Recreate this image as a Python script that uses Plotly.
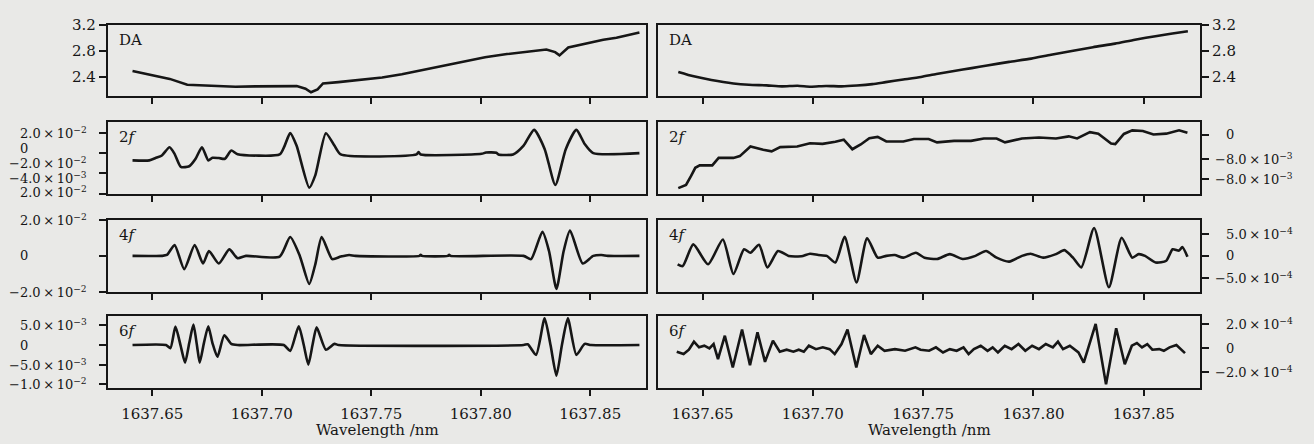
import plotly.graph_objects as go

# ---------------- data ----------------
# Left column
da_l_x = [1637.641, 1637.650, 1637.658, 1637.666, 1637.672, 1637.678, 1637.688, 1637.697, 1637.706,
          1637.716, 1637.720, 1637.7225, 1637.7255, 1637.728, 1637.735, 1637.745, 1637.755, 1637.764,
          1637.774, 1637.783, 1637.793, 1637.802, 1637.812, 1637.822, 1637.830, 1637.834, 1637.836,
          1637.840, 1637.845, 1637.850, 1637.856, 1637.862, 1637.867, 1637.8725]
da_l_y = [2.49, 2.43, 2.37, 2.28, 2.27, 2.26, 2.25, 2.255, 2.255, 2.26, 2.22, 2.165, 2.21, 2.30,
          2.32, 2.35, 2.39, 2.44, 2.51, 2.57, 2.64, 2.70, 2.75, 2.79, 2.82, 2.78, 2.73, 2.85, 2.89,
          2.93, 2.97, 3.00, 3.04, 3.08]

f2_l_x = [1637.641, 1637.6487, 1637.6515, 1637.6544, 1637.6579, 1637.6602, 1637.6631, 1637.6669,
          1637.6698, 1637.6727, 1637.6756, 1637.6775, 1637.6804, 1637.6832, 1637.6861, 1637.6890,
          1637.7082, 1637.7105, 1637.7130, 1637.7159, 1637.7217, 1637.7245, 1637.7293, 1637.7332,
          1637.7361, 1637.7707, 1637.7716, 1637.7726, 1637.8004, 1637.8024, 1637.8072, 1637.8081,
          1637.8148, 1637.8196, 1637.8244, 1637.8292, 1637.8341, 1637.8389, 1637.8437, 1637.8475,
          1637.8514, 1637.8725]
f2_l_y = [-0.0070, -0.0070, -0.0047, -0.0021, 0.0060, -0.0005, -0.0135, -0.0128, -0.0054, 0.0060,
          -0.0070, -0.0044, -0.0047, -0.0054, 0.0028, -0.0008, -0.0011, 0.0077, 0.0200, 0.0077,
          -0.0340, -0.0216, 0.0200, 0.0077, -0.0011, -0.0011, 0.0012, -0.0011, -0.0005, 0.0008,
          0.0005, -0.0011, -0.0011, 0.0077, 0.0233, 0.0044, -0.0314, 0.0044, 0.0233, 0.0093,
          0.0002, 0.0002]

f4_l_x = [1637.641, 1637.6544, 1637.6567, 1637.6602, 1637.6646, 1637.6694, 1637.6732, 1637.6759,
          1637.6804, 1637.6852, 1637.6890, 1637.6928, 1637.7082, 1637.7130, 1637.7174, 1637.7217,
          1637.7245, 1637.7274, 1637.7322, 1637.7361, 1637.7399, 1637.7428, 1637.7720, 1637.7726,
          1637.7732, 1637.7850, 1637.7856, 1637.7862, 1637.8196, 1637.8230, 1637.8282, 1637.8312,
          1637.8346, 1637.8379, 1637.8408, 1637.8466, 1637.8514, 1637.8552, 1637.8581, 1637.8725]
f4_l_y = [0.0, 0.0, 0.0005, 0.0060, -0.0073, 0.0060, -0.0042, 0.0027, -0.0042, 0.0036, -0.0013,
          0.0, -0.0004, 0.0104, 0.0, -0.0155, -0.0045, 0.0104, -0.0018, -0.0004, 0.0005, 0.0, 0.0,
          0.0006, 0.0, 0.0, 0.0006, 0.0, 0.0, -0.0018, 0.0133, 0.0027, -0.0182, 0.0027, 0.0140,
          -0.0042, 0.0, 0.0005, 0.0, 0.0]

f6_l_x = [1637.641, 1637.6563, 1637.6583, 1637.6606, 1637.6629, 1637.6650, 1637.6669, 1637.6688,
          1637.6704, 1637.6717, 1637.6736, 1637.6756, 1637.6775, 1637.6798, 1637.6829, 1637.6861,
          1637.6890, 1637.7101, 1637.7130, 1637.7169, 1637.7192, 1637.7213, 1637.7232, 1637.7251,
          1637.7293, 1637.7332, 1637.7351, 1637.8196, 1637.8215, 1637.8253, 1637.8292, 1637.8319,
          1637.8346, 1637.8371, 1637.8398, 1637.8437, 1637.8475, 1637.8504, 1637.8725]
f6_l_y = [0.0, 0.0, -0.0008, 0.0047, 0.0, -0.0045, 0.0005, 0.0052, 0.0, -0.0045, 0.0005, 0.0048,
          0.0005, -0.0030, 0.0025, 0.0003, 0.0, 0.0, -0.0015, 0.0048, 0.0, -0.0050, 0.0, 0.0045,
          -0.0012, 0.0003, 0.0, 0.0, 0.0002, -0.0025, 0.0068, 0.0, -0.0078, 0.0, 0.0068, -0.0025,
          0.0003, 0.0, 0.0]

# Right column
da_r_x = [1637.639, 1637.646, 1637.654, 1637.664, 1637.671, 1637.679, 1637.686, 1637.693, 1637.699,
          1637.706, 1637.713, 1637.720, 1637.727, 1637.733, 1637.741, 1637.749, 1637.756, 1637.764,
          1637.772, 1637.779, 1637.789, 1637.799, 1637.808, 1637.818, 1637.827, 1637.837, 1637.846,
          1637.856, 1637.863, 1637.870]
da_r_y = [2.477, 2.41, 2.353, 2.30, 2.28, 2.27, 2.255, 2.265, 2.25, 2.262, 2.255, 2.268, 2.29, 2.32,
          2.36, 2.40, 2.445, 2.49, 2.535, 2.576, 2.63, 2.68, 2.74, 2.80, 2.855, 2.91, 2.97, 3.027,
          3.065, 3.10]

f2_r_x = [1637.6390, 1637.6425, 1637.6448, 1637.6467, 1637.6487, 1637.6544, 1637.6573, 1637.6640,
          1637.6669, 1637.6717, 1637.6775, 1637.6813, 1637.6852, 1637.6929, 1637.6987, 1637.7044,
          1637.7102, 1637.7140, 1637.7179, 1637.7217, 1637.7256, 1637.7294, 1637.7333, 1637.7410,
          1637.7458, 1637.7525, 1637.7563, 1637.7640, 1637.7717, 1637.7775, 1637.7833, 1637.7871,
          1637.7948, 1637.8025, 1637.8102, 1637.8160, 1637.8198, 1637.8256, 1637.8294, 1637.8352,
          1637.8371, 1637.8410, 1637.8448, 1637.8496, 1637.8544, 1637.8602, 1637.8660, 1637.8698]
f2_r_y = [-0.0179, -0.0168, -0.0138, -0.0111, -0.0103, -0.0103, -0.0078, -0.0078, -0.0072, -0.0040,
          -0.0051, -0.0056, -0.0042, -0.0040, -0.0029, -0.0031, -0.0024, -0.0017, -0.0049, -0.0033,
          -0.0012, -0.0008, -0.0023, -0.0023, -0.0015, -0.0015, -0.0026, -0.0021, -0.0021, -0.0013,
          -0.0013, -0.0026, -0.0013, -0.0010, -0.0013, -0.0006, -0.0013, 0.0008, 0.0003, -0.0030,
          -0.0032, 0.0002, 0.0014, 0.0012, 0.0000, 0.0003, 0.0014, 0.0006]

f4_r_x = [1637.6387, 1637.6410, 1637.6458, 1637.6525, 1637.6592, 1637.6640, 1637.6688, 1637.6717,
          1637.6756, 1637.6794, 1637.6842, 1637.6890, 1637.6948, 1637.6987, 1637.7025, 1637.7063,
          1637.7102, 1637.7144, 1637.7198, 1637.7246, 1637.7294, 1637.7333, 1637.7371, 1637.7410,
          1637.7467, 1637.7506, 1637.7563, 1637.7621, 1637.7679, 1637.7737, 1637.7785, 1637.7833,
          1637.7890, 1637.7948, 1637.7987, 1637.8044, 1637.8102, 1637.8140, 1637.8179, 1637.8217,
          1637.8275, 1637.8342, 1637.8400, 1637.8448, 1637.8477, 1637.8506, 1637.8554, 1637.8602,
          1637.8631, 1637.8660, 1637.8675, 1637.8698]
f4_r_y = [-1.9e-4, -2.3e-4, 2.6e-4, -1.9e-4, 3.7e-4, -4.1e-4, 1.5e-4, 0.7e-4, 2.5e-4, -2.6e-4,
          1.1e-4, 0.0, -0.1e-4, 0.5e-4, 0.2e-4, 0.0, -1.5e-4, 4.3e-4, -6.0e-4, 4.0e-4, -0.4e-4,
          0.0, 0.2e-4, -0.4e-4, 0.7e-4, -0.4e-4, -0.7e-4, 0.4e-4, -0.7e-4, 0.0, 1.1e-4, -0.4e-4,
          -1.3e-4, 0.0, 0.5e-4, -0.4e-4, 0.4e-4, 1.3e-4, -0.4e-4, -2.6e-4, 6.3e-4, -7.1e-4, 4.1e-4,
          -0.4e-4, 0.4e-4, 0.0, -1.5e-4, -1.1e-4, 1.5e-4, 1.2e-4, 2.0e-4, -0.2e-4]

f6_r_x = [1637.6383, 1637.6414, 1637.6438, 1637.6461, 1637.6484, 1637.6508, 1637.6531, 1637.6550,
          1637.6570, 1637.6601, 1637.6637, 1637.6679, 1637.6715, 1637.6749, 1637.6783, 1637.6819,
          1637.6850, 1637.6881, 1637.6912, 1637.6936, 1637.6959, 1637.6982, 1637.7014, 1637.7045,
          1637.7076, 1637.7099, 1637.7130, 1637.7157, 1637.7197, 1637.7232, 1637.7263, 1637.7294,
          1637.7325, 1637.7372, 1637.7418, 1637.7465, 1637.7488, 1637.7527, 1637.7558, 1637.7590,
          1637.7621, 1637.7652, 1637.7683, 1637.7706, 1637.7730, 1637.7761, 1637.7792, 1637.7815,
          1637.7839, 1637.7870, 1637.7901, 1637.7932, 1637.7963, 1637.7994, 1637.8025, 1637.8056,
          1637.8088, 1637.8111, 1637.8134, 1637.8165, 1637.8204, 1637.8228, 1637.8282, 1637.8329,
          1637.8375, 1637.8414, 1637.8446, 1637.8469, 1637.8492, 1637.8516, 1637.8539, 1637.8570,
          1637.8591, 1637.8617, 1637.8648, 1637.8687]
f6_r_y = [-0.31e-4, -0.51e-4, -0.14e-4, 0.54e-4, 0.06e-4, 0.20e-4, -0.03e-4, 0.34e-4, -0.94e-4,
          1.05e-4, -1.65e-4, 1.57e-4, -1.45e-4, 1.34e-4, -1.17e-4, 0.63e-4, -0.31e-4, -0.14e-4,
          -0.31e-4, -0.14e-4, -0.31e-4, 0.20e-4, -0.09e-4, 0.06e-4, -0.09e-4, -0.51e-4, 0.34e-4,
          1.57e-4, -1.65e-4, 1.11e-4, -0.51e-4, 0.20e-4, -0.23e-4, -0.09e-4, -0.23e-4, 0.06e-4,
          -0.14e-4, -0.23e-4, 0.06e-4, -0.37e-4, -0.09e-4, -0.23e-4, 0.06e-4, -0.51e-4, -0.09e-4,
          0.20e-4, -0.23e-4, 0.06e-4, -0.37e-4, 0.20e-4, -0.09e-4, 0.34e-4, -0.23e-4, 0.20e-4,
          -0.09e-4, 0.34e-4, 0.06e-4, 0.54e-4, -0.09e-4, 0.20e-4, -0.37e-4, -1.23e-4, 2.05e-4,
          -3.08e-4, 1.68e-4, -1.37e-4, 0.20e-4, 0.43e-4, 0.06e-4, 0.34e-4, -0.14e-4, -0.09e-4,
          -0.23e-4, 0.06e-4, 0.26e-4, -0.43e-4]

panel_names = ["DA", "2<i>f</i>", "4<i>f</i>", "6<i>f</i>"]

x_range = [1637.6298, 1637.8755]
x_tickvals = [1637.65, 1637.70, 1637.75, 1637.80, 1637.85]
x_ticktext = ["1637.65", "1637.70", "1637.75", "1637.80", "1637.85"]
x_title = "Wavelength /nm"

T = "\u2009×\u200910"   # thin-spaced "× 10"
# per-panel y axis settings: (range, tick values, label values, label texts)
left_axes = [
    ([2.105, 3.2], [3.2, 2.8, 2.4], [3.2, 2.8, 2.4], ["3.2", "2.8", "2.4"]),
    ([-0.0405, 0.0314], [0.02, 0.0, -0.02, -0.04], [0.02, 0.0051, -0.0095, -0.0241, -0.0388],
     ["2.0" + T + "<sup>−2</sup>", "0", "−2.0" + T + "<sup>−2</sup>", "−4.0" + T + "<sup>−3</sup>",
      "2.0" + T + "<sup>−2</sup>"]),
    ([-0.02, 0.02], [0.02, 0.0, -0.02], [0.02, 0.0, -0.02],
     ["2.0" + T + "<sup>−2</sup>", "0", "−2.0" + T + "<sup>−2</sup>"]),
    ([-0.011, 0.0075], [0.005, 0.0, -0.005, -0.01], [0.005, 0.0, -0.005, -0.01],
     ["5.0" + T + "<sup>−3</sup>", "0", "−5.0" + T + "<sup>−3</sup>", "−1.0" + T + "<sup>−2</sup>"]),
]
right_axes = [
    ([2.105, 3.2], [3.2, 2.8, 2.4], [3.2, 2.8, 2.4], ["3.2", "2.8", "2.4"]),
    ([-0.0199, 0.0043], [0.0, -0.008, -0.015], [0.0, -0.008, -0.015],
     ["0", "−8.0" + T + "<sup>−3</sup>", "−8.0" + T + "<sup>−3</sup>"]),
    ([-8.2e-4, 8.2e-4], [5e-4, 0.0, -5e-4], [5e-4, 0.0, -5e-4],
     ["5.0" + T + "<sup>−4</sup>", "0", "−5.0" + T + "<sup>−4</sup>"]),
    ([-3.4e-4, 2.75e-4], [2e-4, 0.0, -2e-4], [2e-4, 0.0, -2e-4],
     ["2.0" + T + "<sup>−4</sup>", "0", "−2.0" + T + "<sup>−4</sup>"]),
]

left_series = [(da_l_x, da_l_y, "linear"), (f2_l_x, f2_l_y, "spline"),
               (f4_l_x, f4_l_y, "spline"), (f6_l_x, f6_l_y, "spline")]
right_series = [(da_r_x, da_r_y, "spline"), (f2_r_x, f2_r_y, "linear"),
                (f4_r_x, f4_r_y, "spline"), (f6_r_x, f6_r_y, "linear")]

# ---------------- layout / styling ----------------
W, H = 1314, 444
FONT = "DejaVu Serif"
INK = "#161616"
BG = "#e9e9e7"
col_px = [(108, 646), (658, 1200)]
row_px = [(16, 89), (115, 189), (215, 289), (313, 387)]

fig = go.Figure()
layout = dict(width=W, height=H, margin=dict(l=0, r=0, t=0, b=0),
              paper_bgcolor=BG, plot_bgcolor=BG, showlegend=False,
              font=dict(family=FONT, color=INK, size=14))
annotations = []

for col in range(2):
    series = left_series if col == 0 else right_series
    axes_cfg = left_axes if col == 0 else right_axes
    for row in range(4):
        n = row * 2 + col + 1
        sfx = "" if n == 1 else str(n)
        xs, ys, shape = series[row]
        fig.add_trace(go.Scatter(x=xs, y=ys, mode="lines", xaxis="x" + sfx, yaxis="y" + sfx,
                                 line=dict(color=INK, width=2.6, shape=shape, smoothing=0.6),
                                 hoverinfo="skip"))
        x0, x1 = col_px[col]
        t, b = row_px[row]
        rng, tv, lv, lt = axes_cfg[row]
        layout["xaxis" + sfx] = dict(
            domain=[x0 / W, x1 / W], anchor="y" + sfx, range=x_range,
            showline=True, mirror=True, linecolor=INK, linewidth=2.2,
            ticks="outside", ticklen=6, tickwidth=2, tickcolor=INK,
            tickvals=x_tickvals, ticktext=x_ticktext,
            showticklabels=(row == 3), ticklabelstandoff=5,
            tickfont=dict(family=FONT, size=15, color=INK),
            showgrid=False, zeroline=False)
        is_da = row == 0
        layout["yaxis" + sfx] = dict(
            domain=[1 - b / H, 1 - t / H], anchor="x" + sfx, range=rng,
            side="left" if col == 0 else "right",
            showline=True, mirror=True, linecolor=INK, linewidth=2.2,
            ticks="outside", ticklen=7, tickwidth=2, tickcolor=INK,
            tickvals=tv, ticktext=lt if is_da else None,
            showticklabels=is_da, tickfont=dict(family=FONT, size=15, color=INK),
            showgrid=False, zeroline=False)
        if not is_da:
            for v, txt in zip(lv, lt):
                neg = txt.startswith("−")
                if col == 0:
                    px = 7 if neg else 18
                else:
                    px = 1213 if neg else 1224
                annotations.append(dict(text=txt, x=px / W, xref="paper", xanchor="left",
                                        y=v, yref="y" + sfx, yanchor="middle", showarrow=False,
                                        font=dict(family=FONT, size=13, color=INK)))
        # panel name
        annotations.append(dict(text=panel_names[row], x=(x0 + 9) / W, xref="paper", xanchor="left",
                                y=1 - (t + 4) / H, yref="paper", yanchor="top", showarrow=False,
                                font=dict(family=FONT, size=15, color=INK)))
    # x-axis title
    x0, x1 = col_px[col]
    annotations.append(dict(text=x_title, x=(x0 + x1) / 2 / W, xref="paper", xanchor="center",
                            y=1 - 430 / H, yref="paper", yanchor="middle", showarrow=False,
                            font=dict(family=FONT, size=15, color=INK)))

layout["annotations"] = annotations
fig.update_layout(**layout)
fig.write_html("out.html")
